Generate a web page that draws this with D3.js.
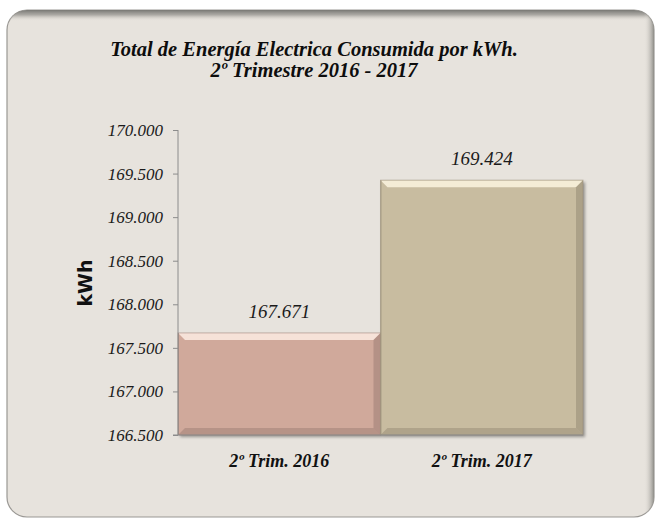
<!DOCTYPE html>
<html>
<head>
<meta charset="utf-8">
<script src="https://cdn.jsdelivr.net/npm/d3@7"></script>
<style>
html,body{margin:0;padding:0;background:#ffffff;}
svg{display:block;}
</style>
</head>
<body>
<svg id="chart" width="657" height="519"></svg>
<script>
const categories = ["2º Trim. 2016", "2º Trim. 2017"];
const values = [167671, 169424];
const tickValues = [166500, 167000, 167500, 168000, 168500, 169000, 169500, 170000];
const barColors = ["#d0a99b", "#c8bca0"];
const barLight = ["#f6e2d8", "#f4ecd6"];
const barDark = ["#9c7e74", "#958a74"];
const titleLines = ["Total de Energía Electrica Consumida por kWh.", "2º Trimestre 2016 - 2017"];
const yTitle = "kWh";

const svg = d3.select("#chart");
const panel = {x: 7, y: 10, w: 647, h: 507, r: 20};
const panelFill = "#e7e3dd";
const serif = "'Liberation Serif', 'Times New Roman', serif";

const defs = svg.append("defs");
const clip = defs.append("clipPath").attr("id", "pclip");
clip.append("rect").attr("x", panel.x).attr("y", panel.y).attr("width", panel.w).attr("height", panel.h).attr("rx", panel.r);

const gTop = defs.append("linearGradient").attr("id", "gTop").attr("x1", 0).attr("y1", 0).attr("x2", 0).attr("y2", 1);
gTop.append("stop").attr("offset", "0%").attr("stop-color", "#787874").attr("stop-opacity", 1);
gTop.append("stop").attr("offset", "45%").attr("stop-color", "#a2a09b").attr("stop-opacity", 0.85);
gTop.append("stop").attr("offset", "100%").attr("stop-color", panelFill).attr("stop-opacity", 0);
const gRight = defs.append("linearGradient").attr("id", "gRight").attr("x1", 0).attr("y1", 0).attr("x2", 1).attr("y2", 0);
gRight.append("stop").attr("offset", "0%").attr("stop-color", panelFill).attr("stop-opacity", 0);
gRight.append("stop").attr("offset", "100%").attr("stop-color", "#8e8d88").attr("stop-opacity", 1);

const shadow = defs.append("filter").attr("id", "bshadow").attr("x", "-10%").attr("y", "-10%").attr("width", "130%").attr("height", "130%");
shadow.append("feDropShadow").attr("dx", 2).attr("dy", 2).attr("stdDeviation", 1.5).attr("flood-color", "#000").attr("flood-opacity", 0.35);

// panel
svg.append("rect").attr("x", panel.x).attr("y", panel.y).attr("width", panel.w).attr("height", panel.h)
  .attr("rx", panel.r).attr("fill", panelFill).attr("stroke", "#9a9894").attr("stroke-width", 1.2);
const pc = svg.append("g").attr("clip-path", "url(#pclip)");
pc.append("rect").attr("x", panel.x).attr("y", panel.y).attr("width", panel.w).attr("height", 11).attr("fill", "url(#gTop)");
pc.append("rect").attr("x", panel.x + panel.w - 10).attr("y", panel.y).attr("width", 10).attr("height", panel.h).attr("fill", "url(#gRight)");

// title
const title = svg.append("text").attr("text-anchor", "middle")
  .attr("font-family", serif).attr("font-weight", "bold").attr("font-style", "italic")
  .attr("font-size", 20.5).attr("fill", "#0d0d0d");
titleLines.forEach((t, i) => {
  title.append("tspan").attr("x", 314).attr("y", 56 + i * 21).text(t);
});

// scales
const plot = {left: 178, right: 583, top: 130, bottom: 435};
const y = d3.scaleLinear().domain([166500, 170000]).range([plot.bottom, plot.top]);
const x = d3.scaleBand().domain(categories).range([plot.left, plot.right]).padding(0);
const loc = d3.formatLocale({decimal: ",", thousands: ".", grouping: [3], currency: ["", ""]});
const fmt = loc.format(",d");

// bars
const bev = 7;
const bars = svg.append("g");
categories.forEach((c, i) => {
  const x0 = x(c), x1 = x(c) + x.bandwidth(), y0 = y(values[i]), y1 = y(166500);
  const g = bars.append("g");
  g.append("rect").attr("x", x0).attr("y", y0).attr("width", x1 - x0).attr("height", y1 - y0)
    .attr("fill", barColors[i]).attr("filter", "url(#bshadow)");
  g.append("polygon").attr("points", [[x0, y0], [x1, y0], [x1 - bev, y0 + bev], [x0 + bev, y0 + bev]].join(" "))
    .attr("fill", barLight[i]);
  g.append("line").attr("x1", x0 + 0.5).attr("x2", x0 + 0.5).attr("y1", y0).attr("y2", y1).attr("stroke", barDark[i]).attr("stroke-opacity", 0.6);
  g.append("polygon").attr("points", [[x1, y0], [x1, y1], [x1 - bev, y1 - bev], [x1 - bev, y0 + bev]].join(" "))
    .attr("fill", barDark[i]).attr("opacity", 0.55);
  g.append("polygon").attr("points", [[x0, y1], [x1, y1], [x1 - bev, y1 - bev], [x0 + bev, y1 - bev]].join(" "))
    .attr("fill", barDark[i]).attr("opacity", 0.5);
  g.append("rect").attr("x", x0).attr("y", y0).attr("width", x1 - x0).attr("height", y1 - y0)
    .attr("fill", "none").attr("stroke", barDark[i]).attr("stroke-opacity", 0.5);
});

// value labels
svg.append("g").selectAll("text").data(categories).join("text")
  .attr("x", d => x(d) + x.bandwidth() / 2).attr("y", (d, i) => y(values[i]) - 15)
  .attr("text-anchor", "middle").attr("font-family", serif).attr("font-style", "italic")
  .attr("font-size", 19).attr("fill", "#1a1a1a").text((d, i) => fmt(values[i]));

// y axis
const yAxis = svg.append("g").attr("transform", `translate(${plot.left},0)`)
  .call(d3.axisLeft(y).tickValues(tickValues).tickFormat(fmt).tickSize(5).tickPadding(10));
yAxis.select(".domain").attr("stroke", "#8c8c8c").attr("d", `M0,${plot.top}V${plot.bottom}`);
yAxis.selectAll(".tick line").attr("stroke", "#8c8c8c");
yAxis.selectAll(".tick text").attr("font-family", serif).attr("font-style", "italic")
  .attr("font-size", 17).attr("fill", "#1a1a1a");

// x axis
const xAxis = svg.append("g").attr("transform", `translate(0,${plot.bottom})`)
  .call(d3.axisBottom(x).tickSize(0).tickPadding(19));
xAxis.select(".domain").attr("stroke", "#8c8c8c").attr("d", `M${plot.left - 5},0H${plot.right}`);
xAxis.selectAll(".tick text").attr("font-family", serif).attr("font-style", "italic")
  .attr("font-weight", "bold").attr("font-size", 18).attr("fill", "#111");

// y title
svg.append("text").attr("transform", "translate(92,283) rotate(-90)").attr("text-anchor", "middle")
  .attr("font-family", "'DejaVu Sans', sans-serif").attr("font-weight", "bold").attr("font-size", 19)
  .attr("fill", "#111").text(yTitle);
</script>
</body>
</html>
